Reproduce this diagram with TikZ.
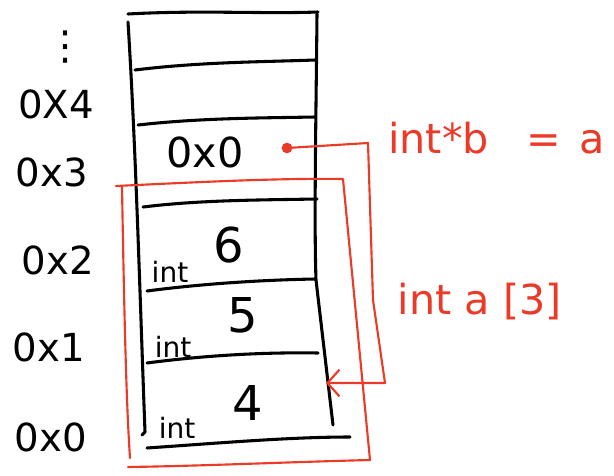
\documentclass[tikz,border=0pt]{standalone}
\usepackage{fontspec}
\setmainfont{DejaVu Sans}
\usetikzlibrary{arrows.meta}
\definecolor{pen}{RGB}{236,58,40}
\tikzset{
  ink/.style={line width=2.3pt, line cap=round, line join=round, black},
  redink/.style={line width=1.6pt, line cap=round, line join=round, pen},
  addr/.style={font=\fontsize{29}{30}\selectfont, inner sep=0pt},
  val/.style={font=\fontsize{36}{36}\selectfont, inner sep=0pt},
  typ/.style={font=\fontsize{21}{21}\selectfont, inner sep=0pt},
  redtxt/.style={font=\fontsize{31}{31}\selectfont, inner sep=0pt, text=pen},
  dotnode/.style={circle, fill=pen, minimum size=8pt, inner sep=0pt}
}
\begin{document}
\begin{tikzpicture}[x=0.75pt, y=-0.75pt]
\useasboundingbox (0,0) rectangle (614,475);
% memory column
\draw[ink] (128,14) .. controls (200,10) and (260,14) .. (318,12);
\draw[ink] (128,22) .. controls (136,150) and (140,300) .. (145,432) -- (142,435);
\draw[ink] (317,14) .. controls (316,120) and (314,220) .. (316,280) -- (333,425);
\draw[ink] (135,70) .. controls (200,62) and (260,62) .. (315,60);
\draw[ink] (138,125) .. controls (200,118) and (260,118) .. (315,117);
\draw[ink] (143,207) .. controls (200,200) and (260,200) .. (317,199);
\draw[ink] (147,291) .. controls (200,284) and (260,280) .. (315,279);
\draw[ink] (147,363) .. controls (200,356) and (260,352) .. (318,353);
\draw[ink] (147,448) .. controls (220,443) and (290,437) .. (350,437);
% address labels
\node[font=\fontsize{30}{30}\selectfont, inner sep=0pt] (dots) at (65,47) {⋮};
\node[addr] (a4) at (56,104) {0X4};
\node[addr] (a3) at (52,172) {0x3};
\node[addr] (a2) at (58,260) {0x2};
\node[addr] (a1) at (49,347) {0x1};
\node[addr] (a0) at (51,437) {0x0};
% cell contents
\node[addr, font=\fontsize{31}{31}\selectfont] (ptrval) at (205,152) {0x0};
\node[val] (v6) at (229,245) {6};
\node[val] (v5) at (243,315) {5};
\node[val] (v4) at (248,403) {4};
\node[typ] (t2) at (170,272) {int};
\node[typ] (t1) at (173,347) {int};
\node[typ] (t0) at (177,428) {int};
% red array box
\draw[redink] (116,186) .. controls (200,182) and (280,178) .. (343,179) -- (370,460)
  .. controls (290,462) and (200,466) .. (128,467);
\draw[redink] (122,187) .. controls (124,300) and (126,400) .. (130,458);
% pointer
\node[dotnode] (pb) at (287,148) {};
\coordinate (tip) at (326,383);
\draw[redink, -{Straight Barb[length=9pt, width=20pt, line width=1.6pt]}]
  (pb.center) -- (368,143) -- (373,300) -- (385,383) -- (tip);
% red labels
\node[redtxt, anchor=west] (ptrlbl) at (388,138) {int*b\hspace{28pt}=\hspace{14pt}a};
\node[redtxt] (arrlbl) at (480,302) {int a [3]};
\end{tikzpicture}
\end{document}
